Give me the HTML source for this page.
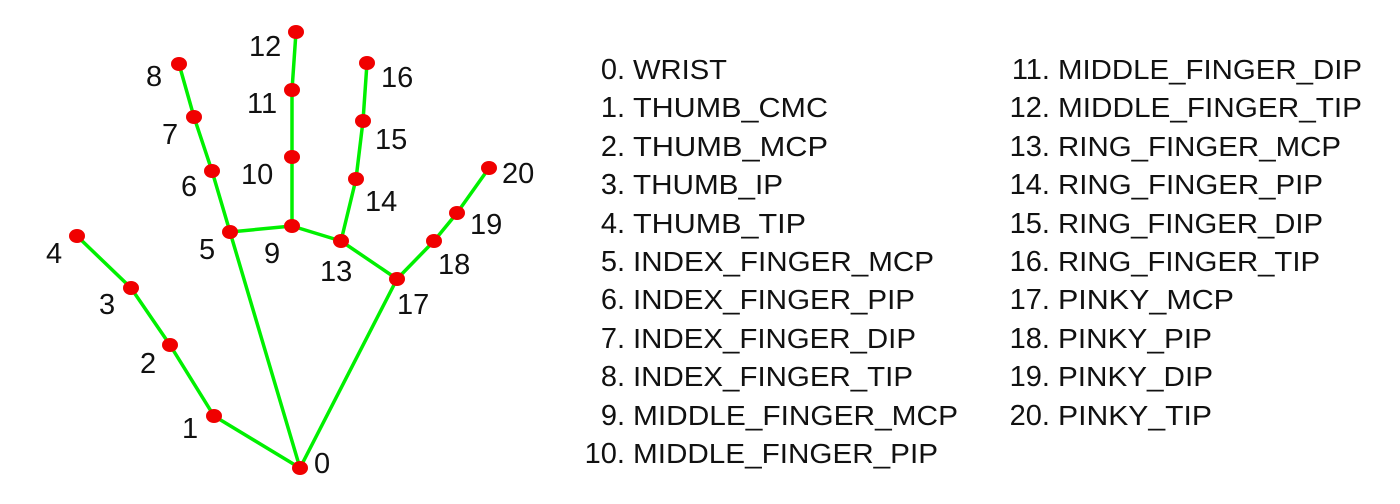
<!DOCTYPE html>
<html><head><meta charset="utf-8"><style>
html,body{margin:0;padding:0;background:#fff;}
svg{display:block;}
text{font-family:"Liberation Sans",sans-serif;font-size:28px;fill:#111;}
.l text{font-size:29px;}
.n text{font-size:29px;}
</style></head><body>
<svg width="1400" height="504" viewBox="0 0 1400 504" xmlns="http://www.w3.org/2000/svg">
<g stroke="#00f000" stroke-width="3.5" fill="none" stroke-linecap="round" stroke-linejoin="round">
<polyline points="300,468 214,416 170,345 131,288 77,236"/>
<polyline points="300,468 230,232 212,171 194,117 179,64"/>
<polyline points="230,232 292,226 292,157 292,90 296,32"/>
<polyline points="292,226 341,241 356,179 363,121 367,63"/>
<polyline points="341,241 397,279 434,241 457,213 489,168"/>
<polyline points="300,468 397,279"/>
</g>
<g fill="#f00000">
<ellipse cx="300" cy="468" rx="8" ry="7"/><ellipse cx="214" cy="416" rx="8" ry="7"/>
<ellipse cx="170" cy="345" rx="8" ry="7"/><ellipse cx="131" cy="288" rx="8" ry="7"/>
<ellipse cx="77" cy="236" rx="8" ry="7"/><ellipse cx="230" cy="232" rx="8" ry="7"/>
<ellipse cx="212" cy="171" rx="8" ry="7"/><ellipse cx="194" cy="117" rx="8" ry="7"/>
<ellipse cx="179" cy="64" rx="8" ry="7"/><ellipse cx="292" cy="226" rx="8" ry="7"/>
<ellipse cx="292" cy="157" rx="8" ry="7"/><ellipse cx="292" cy="90" rx="8" ry="7"/>
<ellipse cx="296" cy="32" rx="8" ry="7"/><ellipse cx="341" cy="241" rx="8" ry="7"/>
<ellipse cx="356" cy="179" rx="8" ry="7"/><ellipse cx="363" cy="121" rx="8" ry="7"/>
<ellipse cx="367" cy="63" rx="8" ry="7"/><ellipse cx="397" cy="279" rx="8" ry="7"/>
<ellipse cx="434" cy="241" rx="8" ry="7"/><ellipse cx="457" cy="213" rx="8" ry="7"/>
<ellipse cx="489" cy="168" rx="8" ry="7"/>
</g>
<g class="l">
<text x="314" y="473">0</text><text x="182" y="438">1</text><text x="140" y="373">2</text>
<text x="99" y="314">3</text><text x="46" y="263">4</text><text x="199" y="259">5</text>
<text x="181" y="196">6</text><text x="162" y="144">7</text><text x="146" y="86">8</text>
<text x="264" y="263">9</text><text x="241" y="184">10</text><text x="247" y="113">11</text>
<text x="249" y="56">12</text><text x="320" y="281">13</text><text x="365" y="211">14</text>
<text x="375" y="149">15</text><text x="381" y="87">16</text><text x="397" y="314">17</text>
<text x="438" y="274">18</text><text x="470" y="234">19</text><text x="502" y="183">20</text>
</g>
<g>
<g class="n" text-anchor="end">
<text x="625" y="79">0.</text><text x="625" y="117">1.</text><text x="625" y="156">2.</text>
<text x="625" y="194">3.</text><text x="625" y="233">4.</text><text x="625" y="271">5.</text>
<text x="625" y="309">6.</text><text x="625" y="348">7.</text><text x="625" y="386">8.</text>
<text x="625" y="425">9.</text><text x="625" y="463">10.</text>
<text x="1050" y="79">11.</text><text x="1050" y="117">12.</text><text x="1050" y="156">13.</text>
<text x="1050" y="194">14.</text><text x="1050" y="233">15.</text><text x="1050" y="271">16.</text>
<text x="1050" y="309">17.</text><text x="1050" y="348">18.</text><text x="1050" y="386">19.</text>
<text x="1050" y="425">20.</text>
</g>
<text x="633" y="79" textLength="94" lengthAdjust="spacingAndGlyphs">WRIST</text>
<text x="633" y="117" textLength="195" lengthAdjust="spacingAndGlyphs">THUMB_CMC</text>
<text x="633" y="156" textLength="195" lengthAdjust="spacingAndGlyphs">THUMB_MCP</text>
<text x="633" y="194" textLength="150" lengthAdjust="spacingAndGlyphs">THUMB_IP</text>
<text x="633" y="233" textLength="173" lengthAdjust="spacingAndGlyphs">THUMB_TIP</text>
<text x="633" y="271" textLength="301" lengthAdjust="spacingAndGlyphs">INDEX_FINGER_MCP</text>
<text x="633" y="309" textLength="282" lengthAdjust="spacingAndGlyphs">INDEX_FINGER_PIP</text>
<text x="633" y="348" textLength="283" lengthAdjust="spacingAndGlyphs">INDEX_FINGER_DIP</text>
<text x="633" y="386" textLength="280" lengthAdjust="spacingAndGlyphs">INDEX_FINGER_TIP</text>
<text x="633" y="425" textLength="325" lengthAdjust="spacingAndGlyphs">MIDDLE_FINGER_MCP</text>
<text x="633" y="463" textLength="305" lengthAdjust="spacingAndGlyphs">MIDDLE_FINGER_PIP</text>
<text x="1058" y="79" textLength="304" lengthAdjust="spacingAndGlyphs">MIDDLE_FINGER_DIP</text>
<text x="1058" y="117" textLength="304" lengthAdjust="spacingAndGlyphs">MIDDLE_FINGER_TIP</text>
<text x="1058" y="156" textLength="283" lengthAdjust="spacingAndGlyphs">RING_FINGER_MCP</text>
<text x="1058" y="194" textLength="265" lengthAdjust="spacingAndGlyphs">RING_FINGER_PIP</text>
<text x="1058" y="233" textLength="265" lengthAdjust="spacingAndGlyphs">RING_FINGER_DIP</text>
<text x="1058" y="271" textLength="262" lengthAdjust="spacingAndGlyphs">RING_FINGER_TIP</text>
<text x="1058" y="309" textLength="176" lengthAdjust="spacingAndGlyphs">PINKY_MCP</text>
<text x="1058" y="348" textLength="154" lengthAdjust="spacingAndGlyphs">PINKY_PIP</text>
<text x="1058" y="386" textLength="155" lengthAdjust="spacingAndGlyphs">PINKY_DIP</text>
<text x="1058" y="425" textLength="154" lengthAdjust="spacingAndGlyphs">PINKY_TIP</text>
</g>
</svg>
</body></html>
